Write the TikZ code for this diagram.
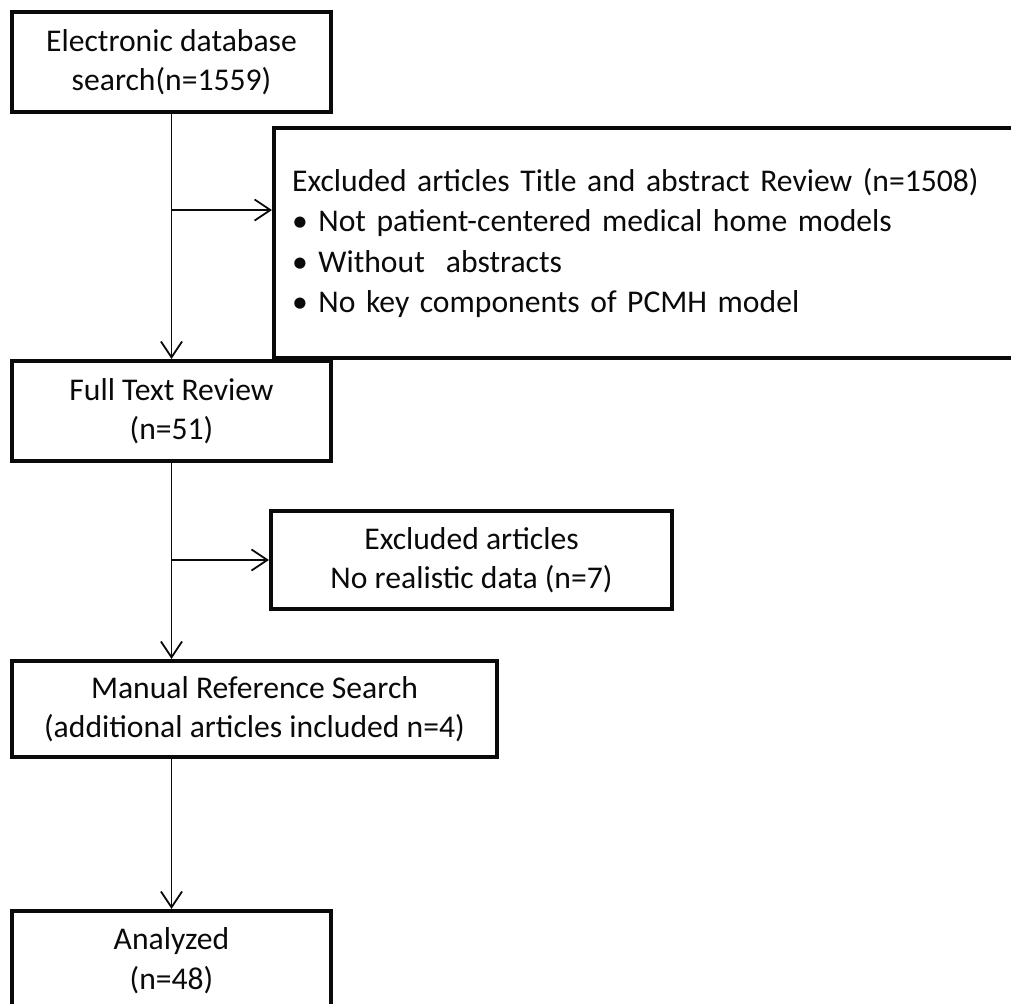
\documentclass[tikz,border=0pt]{standalone}
\usepackage{fontspec}
\setmainfont{Carlito}
\usepackage{xcolor}
\definecolor{flowInk}{HTML}{0A0A0A}
\usepackage{tikz}
\usetikzlibrary{arrows.meta, positioning, calc}
\tikzset{
  stagebox/.style={draw=flowInk, line width=2.4pt, align=center, inner sep=0pt,
    text=flowInk, font=\fontsize{18}{22.5}\selectfont},
  flowarrow/.style={draw=flowInk, line width=1pt,
    -{Straight Barb[length=9pt, width=12pt, line width=1pt]}}
}

\begin{document}
\begin{tikzpicture}
  \clip (0,0) rectangle (20.22,-20.08);
  \node[stagebox, minimum width=6.38cm, minimum height=2cm] (search) at (3.43,-1.24)
    {Electronic database\\search(n=1559)};
  \node[stagebox, anchor=west, align=left, inner xsep=0.36cm, text width=15cm,
    minimum height=4.6cm, font=\fontsize{18}{22.8}\selectfont] (screenout) at (5.44,-4.86)
    {Excluded articles Title and abstract Review (n=1508)\\
     \textbullet\ Not patient-centered medical home models\\
     \textbullet\ Without\ \ abstracts\\
     \textbullet\ No key components of PCMH model};
  \node[stagebox, minimum width=6.38cm, minimum height=2cm] (fulltext) at (3.43,-8.22)
    {Full Text Review\\(n=51)};
  \node[stagebox, minimum width=8.02cm, minimum height=1.96cm] (textout) at (9.43,-11.2)
    {Excluded articles\\No realistic data (n=7)};
  \node[stagebox, minimum width=9.7cm, minimum height=1.92cm] (manual) at (5.09,-14.18)
    {Manual Reference Search\\(additional articles included n=4)};
  \node[stagebox, minimum width=6.38cm, minimum height=1.98cm] (analyzed) at (3.43,-19.21)
    {Analyzed\\(n=48)};

  \coordinate (fork1) at (search.south |- 0,-4.2);
  \coordinate (fork2) at (fulltext.south |- textout.west);
  \draw[flowarrow] (search.south) -- (fulltext.north);
  \draw[flowarrow] (fork1) -- (fork1 -| screenout.west);
  \draw[flowarrow] (fulltext.south) -- (fulltext.south |- manual.north);
  \draw[flowarrow] (fork2) -- (textout.west);
  \draw[flowarrow] (analyzed.north |- manual.south) -- (analyzed.north);
\end{tikzpicture}
\end{document}
